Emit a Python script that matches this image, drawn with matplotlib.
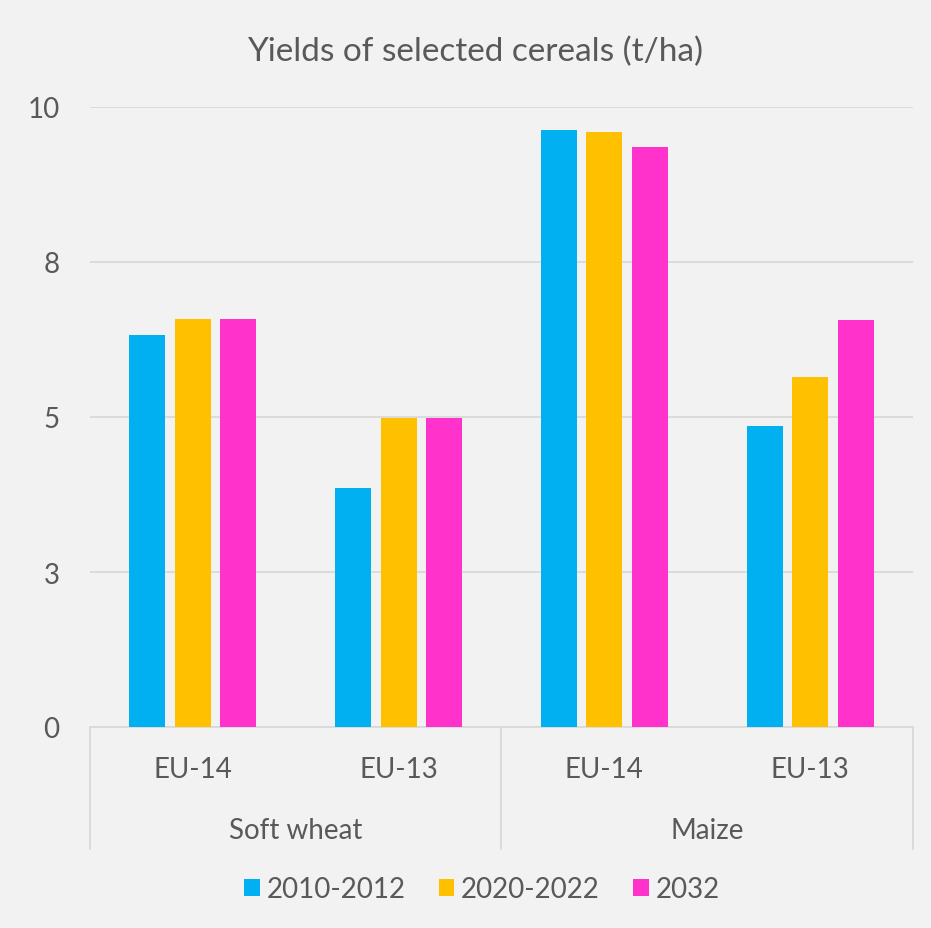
import numpy as np
import matplotlib.pyplot as plt
from matplotlib.patches import Patch

plt.rcParams['font.family'] = ['Lato', 'DejaVu Sans']

# data
crops = ['Soft wheat', 'Maize']
regions = ['EU-14', 'EU-13', 'EU-14', 'EU-13']
series = ['2010-2012', '2020-2022', '2032']
y2010 = [6.32, 3.85, 9.63, 4.85]
y2020 = [6.58, 4.98, 9.60, 5.65]
y2032 = [6.58, 4.98, 9.35, 6.56]
yticks = [0, 2.5, 5, 7.5, 10]
ytick_labels = ['0', '3', '5', '8', '10']

colors = ['#00B0F0', '#FFC000', '#FF33CC']
txt = '#595959'
grid = '#D9D9D9'
bg = '#F2F2F2'

fig = plt.figure(figsize=(9.31, 9.29), dpi=100, facecolor=bg)
ax = fig.add_axes([90/931, 1-728/929, 823/931, 620/929], facecolor=bg)

x = np.arange(len(regions))
w = 0.175
off = 0.221
for i, (vals, c) in enumerate(zip([y2010, y2020, y2032], colors)):
    ax.bar(x + (i-1)*off, vals, width=w, color=c, zorder=3)

ax.set_xlim(-0.5, len(regions)-0.5)
ax.set_ylim(0, 10)
ax.set_yticks(yticks)
ax.set_yticklabels(ytick_labels, fontsize=20, color=txt)
ax.tick_params(axis='y', length=0, pad=22)
ax.set_xticks([])
ax.grid(axis='y', color=grid, linewidth=1.3, zorder=0)
for s in ['top', 'right', 'left']:
    ax.spines[s].set_visible(False)
ax.spines['bottom'].set_color(grid)
ax.spines['bottom'].set_linewidth(1.3)

# two-level category axis
depth = -122/620
for xv in [-0.5, 1.5, 3.5]:
    ax.plot([xv, xv], [0, depth], transform=ax.get_xaxis_transform(),
            color=grid, linewidth=1.3, clip_on=False)
for xi, r in zip(x, regions):
    ax.text(xi, -42/620, r, transform=ax.get_xaxis_transform(),
            ha='center', va='center', fontsize=20, color=txt)
for k, c in enumerate(crops):
    ax.text(0.5 + 2*k, -103/620, c, transform=ax.get_xaxis_transform(),
            ha='center', va='center', fontsize=20, color=txt)

fig.text(475/931, 1-52/929, 'Yields of selected cereals (t/ha)',
         ha='center', va='center', fontsize=24, color=txt)

handles = [Patch(facecolor=c) for c in colors]
fig.legend(handles, series, loc='center', bbox_to_anchor=(482/931, 1-890/929),
           ncol=3, frameon=False, fontsize=20, labelcolor=txt,
           handlelength=0.55, handleheight=0.55, handletextpad=0.25, columnspacing=1.2)

fig.savefig('out.png', dpi=100, facecolor=bg)
